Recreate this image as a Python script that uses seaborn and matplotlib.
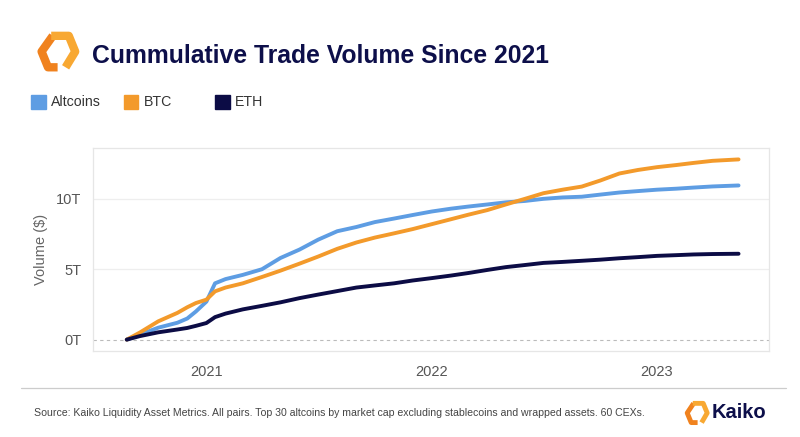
import pandas as pd
import matplotlib.pyplot as plt
import matplotlib.dates as mdates
from matplotlib.lines import Line2D
from matplotlib.patches import Rectangle
import seaborn as sns

dates = ['2020-08-25', '2020-09-15', '2020-10-15', '2020-11-15', '2020-12-01', '2020-12-15',
         '2021-01-01', '2021-01-15', '2021-02-01', '2021-03-01', '2021-04-01', '2021-05-01',
         '2021-06-01', '2021-07-01', '2021-08-01', '2021-09-01', '2021-10-01', '2021-11-01',
         '2021-12-01', '2022-01-01', '2022-02-01', '2022-03-01', '2022-04-01', '2022-05-01',
         '2022-06-01', '2022-07-01', '2022-08-01', '2022-09-01', '2022-10-01', '2022-11-01',
         '2022-12-01', '2023-01-01', '2023-02-01', '2023-03-01', '2023-04-01', '2023-05-13']
# values in trillions of USD, cumulative
altcoins = [0, 0.35, 0.85, 1.2, 1.5, 2.0,
            2.7, 4.0, 4.3, 4.6, 5.0, 5.8,
            6.4, 7.1, 7.7, 8.0, 8.35, 8.6,
            8.85, 9.1, 9.3, 9.45, 9.6, 9.75,
            9.85, 10.0, 10.1, 10.15, 10.3, 10.45,
            10.55, 10.65, 10.72, 10.8, 10.88, 10.95]
btc = [0, 0.5, 1.3, 1.9, 2.3, 2.6,
       2.84, 3.43, 3.7, 4.0, 4.45, 4.9,
       5.4, 5.9, 6.45, 6.9, 7.25, 7.55,
       7.85, 8.2, 8.55, 8.87, 9.2, 9.6,
       10.0, 10.4, 10.65, 10.87, 11.3, 11.8,
       12.05, 12.25, 12.4, 12.55, 12.7, 12.8]
eth = [0, 0.25, 0.52, 0.72, 0.83, 0.98,
       1.18, 1.6, 1.85, 2.15, 2.4, 2.65,
       2.95, 3.2, 3.45, 3.7, 3.85, 4.0,
       4.2, 4.37, 4.55, 4.73, 4.95, 5.15,
       5.3, 5.45, 5.52, 5.6, 5.68, 5.78,
       5.86, 5.95, 6.0, 6.05, 6.08, 6.1]
series = ['Altcoins', 'BTC', 'ETH']
yticks = [0, 5, 10]
ytick_labels = ['0T', '5T', '10T']
years = ['2021-01-01', '2022-01-01', '2023-01-01']

colors = {'Altcoins': '#5e9de3', 'BTC': '#f39a2b', 'ETH': '#0c0c45'}
navy = '#0d0f4a'

df = pd.DataFrame({'date': pd.to_datetime(dates), 'Altcoins': altcoins, 'BTC': btc, 'ETH': eth})
long = df.melt(id_vars='date', var_name='series', value_name='volume')

sns.set_style('white')
plt.rcParams['font.family'] = ['Liberation Sans', 'DejaVu Sans']

fig = plt.figure(figsize=(8, 4.37), dpi=100)
ax = fig.add_axes([0.116, 0.197, 0.845, 0.464])

sns.lineplot(data=long, x='date', y='volume', hue='series', hue_order=series,
             palette=colors, linewidth=2.8, legend=False, ax=ax)

ax.set_ylim(-0.8, 13.6)
ax.set_xlim(pd.Timestamp('2020-07-01'), pd.Timestamp('2023-07-01'))
ax.set_yticks(yticks)
ax.set_yticklabels(ytick_labels)
ax.set_xticks(pd.to_datetime(years))
ax.xaxis.set_major_formatter(mdates.DateFormatter('%Y'))
ax.tick_params(axis='y', length=0, labelsize=10.5, labelcolor='#555555', pad=8)
ax.tick_params(axis='x', length=4, color='#dddddd', labelsize=10.5, labelcolor='#555555', pad=6)
for y in yticks[1:]:
    ax.axhline(y, color='#eeeeee', lw=0.9, zorder=0)
ax.axhline(0, color='#bbbbbb', lw=0.8, ls=(0, (3, 3)), zorder=0)
for s in ax.spines.values():
    s.set_color('#e6e6e6')
    s.set_linewidth(0.9)
ax.set_xlabel('')
ax.set_ylabel('Volume ($)', fontsize=10.5, color='#666666', labelpad=6)

# title + logo
fig.text(0.115, 0.872, 'Cummulative Trade Volume Since 2021', fontsize=17.8,
         fontweight='bold', color=navy, va='center')
logo_l = Line2D([0.066, 0.052, 0.060, 0.072], [0.918, 0.882, 0.846, 0.846],
                transform=fig.transFigure, color='#f0821e', lw=6, solid_capstyle='butt')
logo_r = Line2D([0.064, 0.086, 0.094, 0.082], [0.918, 0.918, 0.882, 0.846],
                transform=fig.transFigure, color='#f8a832', lw=6, solid_capstyle='butt')
fig.add_artist(logo_l)
fig.add_artist(logo_r)

# legend
lx = [0.039, 0.155, 0.269]
for x, name in zip(lx, series):
    fig.add_artist(Rectangle((x, 0.75), 0.018, 0.032, transform=fig.transFigure,
                             color=colors[name]))
    fig.text(x + 0.025, 0.766, name, fontsize=10.2, color='#333333', va='center')

# footer
fig.add_artist(Line2D([0.026, 0.982], [0.111, 0.111], transform=fig.transFigure,
                      color='#cccccc', lw=0.9))
fig.text(0.043, 0.055, 'Source: Kaiko Liquidity Asset Metrics. All pairs. Top 30 altcoins by market cap '
         'excluding stablecoins and wrapped assets. 60 CEXs.', fontsize=7.55, color='#444444',
         va='center', family=['Liberation Sans Narrow', 'Liberation Sans'])
fig.add_artist(Line2D([0.867, 0.859, 0.864, 0.872], [0.077, 0.055, 0.033, 0.033],
                      transform=fig.transFigure, color='#f0821e', lw=3.5, solid_capstyle='butt'))
fig.add_artist(Line2D([0.866, 0.879, 0.884, 0.877], [0.077, 0.077, 0.055, 0.033],
                      transform=fig.transFigure, color='#f8a832', lw=3.5, solid_capstyle='butt'))
fig.text(0.890, 0.055, 'Kaiko', fontsize=14.5, fontweight='bold', color=navy, va='center')

fig.savefig('out.png', dpi=100, facecolor='white')
